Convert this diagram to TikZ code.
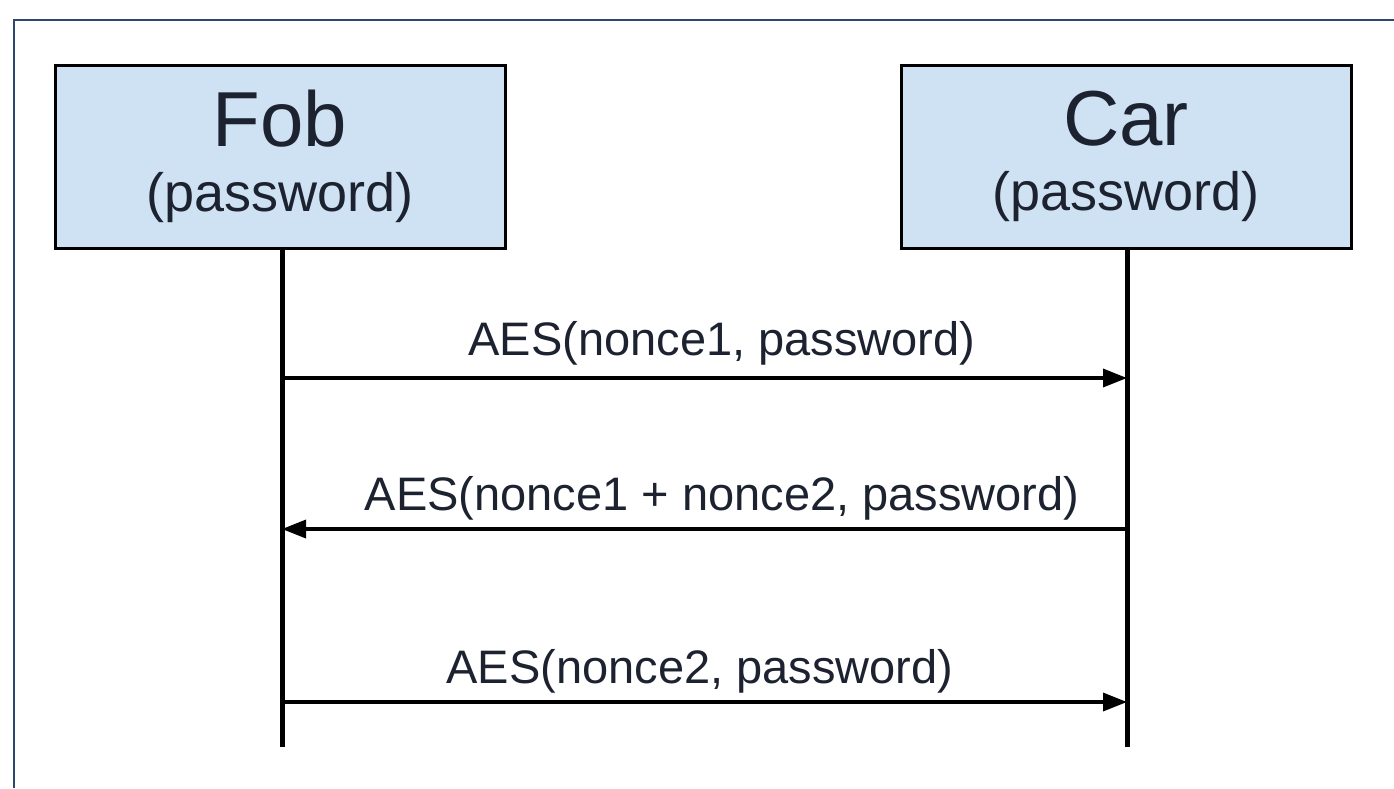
\documentclass[tikz,border=0pt]{standalone}
\usepackage{fontspec}
\setmainfont{Liberation Sans}
\usetikzlibrary{arrows.meta}
\definecolor{boxblue}{RGB}{207,226,243}
\definecolor{framecol}{RGB}{44,72,108}
\definecolor{inktext}{RGB}{28,34,48}

\begin{document}
\begin{tikzpicture}[x=1pt,y=-1pt,
  party/.style={draw=black,line width=3pt,fill=boxblue,text=inktext,
    minimum width=450pt,minimum height=183pt,inner sep=0pt,align=center},
  life/.style={line width=5pt},
  msg/.style={line width=3.5pt,-{Triangle[length=24pt,width=18pt]}},
  msglabel/.style={font=\fontsize{47}{56}\selectfont,text=inktext,inner sep=0pt,anchor=base}]
  \useasboundingbox (0,0) rectangle (1394,788);
  % outer frame
  \draw[framecol,line width=2pt] (14,788) -- (14,20) -- (1394,20);

  % the two parties
  \node[party] (fob) at (280,156.5)
    {{\fontsize{78}{60}\selectfont Fob}\\[24pt]{\fontsize{54}{60}\selectfont (password)}};
  \node[party] (car) at (1126,156.5)
    {{\fontsize{78}{60}\selectfont Car}\\[24pt]{\fontsize{54}{60}\selectfont (password)}};

  % lifelines
  \coordinate (fobend) at (282,747);
  \coordinate (carend) at (1127,747);
  \draw[life] (fob.south -| fobend) -- (fobend);
  \draw[life] (car.south -| carend) -- (carend);

  % messages
  \coordinate (f1) at (fobend |- 0,378);
  \coordinate (c1) at (carend |- 0,378);
  \coordinate (f2) at (fobend |- 0,529);
  \coordinate (c2) at (carend |- 0,529);
  \coordinate (f3) at (fobend |- 0,702);
  \coordinate (c3) at (carend |- 0,702);
  \draw[msg] (f1) -- (c1);
  \draw[msg] (c2) -- (f2);
  \draw[msg] (f3) -- (c3);
  \node[msglabel] (m1) at (722,355) {AES(nonce1, password)};
  \node[msglabel] (m2) at (722,510) {AES(nonce1 + nonce2, password)};
  \node[msglabel] (m3) at (700,683) {AES(nonce2, password)};
\end{tikzpicture}
\end{document}
